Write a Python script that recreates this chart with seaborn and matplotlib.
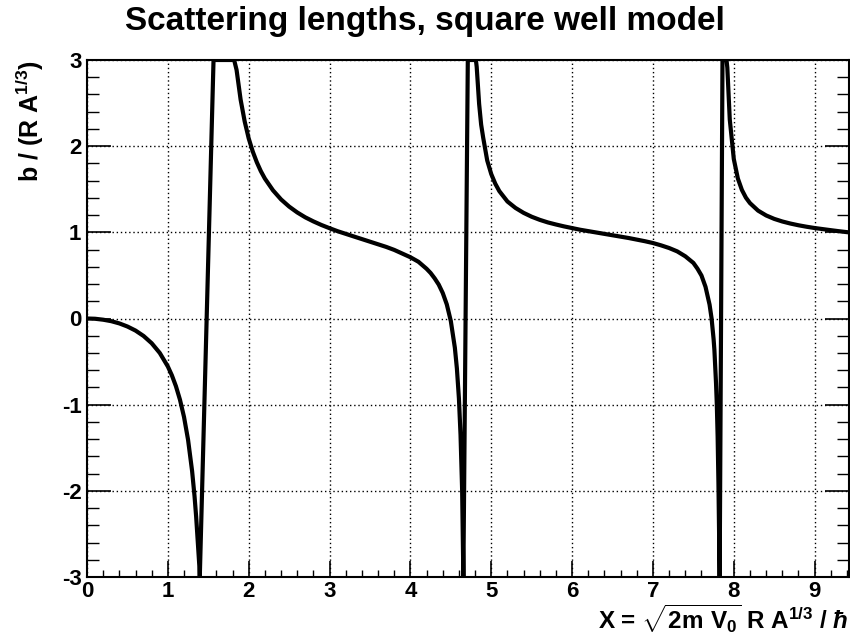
import matplotlib
matplotlib.use("Agg")
import matplotlib.pyplot as plt
import seaborn as sns
import pandas as pd
from matplotlib.ticker import MultipleLocator

# values (clipped to the drawn range -3..3)
x_vals = [0.0, 0.1, 0.2, 0.3, 0.4, 0.5, 0.6, 0.7, 0.8, 0.9, 1.0, 1.05, 1.1,
          1.15, 1.2, 1.25, 1.3, 1.33, 1.35, 1.37, 1.39, 1.395,
          1.565, 1.82, 1.85, 1.9, 1.95, 2.0, 2.05, 2.1, 2.15, 2.2, 2.3, 2.4,
          2.5, 2.6, 2.7, 2.8, 2.9, 3.0, 3.1, 3.2, 3.3, 3.4, 3.5, 3.6, 3.7,
          3.8, 3.9, 4.0, 4.1, 4.2, 4.25, 4.3, 4.35, 4.4, 4.45, 4.5, 4.55,
          4.575, 4.6, 4.62, 4.64, 4.655,
          4.71, 4.81, 4.82, 4.85, 4.875, 4.9, 4.95, 5.0, 5.05, 5.1, 5.2, 5.3,
          5.4, 5.5, 5.6, 5.7, 5.8, 5.9, 6.0, 6.1, 6.2, 6.3, 6.4, 6.5, 6.6,
          6.7, 6.8, 6.9, 7.0, 7.1, 7.2, 7.3, 7.4, 7.45, 7.5, 7.55, 7.6, 7.65,
          7.7, 7.725, 7.75, 7.76, 7.78, 7.79, 7.8, 7.81, 7.82, 7.825,
          7.86, 7.91, 7.92, 7.95, 8.0, 8.05, 8.1, 8.15, 8.2, 8.3, 8.4, 8.5,
          8.6, 8.7, 8.8, 8.9, 9.0, 9.1, 9.2, 9.3, 9.42]
b_vals = [0.0, -0.003, -0.014, -0.031, -0.057, -0.093, -0.140, -0.203,
          -0.287, -0.400, -0.557, -0.660, -0.786, -0.943, -1.143, -1.408,
          -1.771, -2.062, -2.30, -2.587, -2.88, -3.0,
          3.0, 3.0, 2.885, 2.54, 2.288, 2.09, 1.938, 1.814, 1.710, 1.624,
          1.488, 1.382, 1.299, 1.231, 1.174, 1.127, 1.085, 1.048, 1.013,
          0.982, 0.952, 0.922, 0.893, 0.863, 0.831, 0.796, 0.754, 0.711,
          0.658, 0.577, 0.528, 0.466, 0.394, 0.296, 0.164, -0.030, -0.340,
          -0.580, -0.926, -1.35, -2.0, -3.0,
          3.0, 3.0, 2.92, 2.49, 2.25, 2.10, 1.834, 1.676, 1.564, 1.478,
          1.358, 1.283, 1.226, 1.181, 1.145, 1.115, 1.091, 1.069, 1.049,
          1.030, 1.014, 0.997, 0.982, 0.966, 0.950, 0.934, 0.916, 0.897,
          0.876, 0.849, 0.818, 0.779, 0.722, 0.683, 0.645, 0.579, 0.499,
          0.368, 0.162, 0.002, -0.239, -0.366, -0.75, -1.0, -1.37, -1.91,
          -2.7, -3.0,
          3.0, 3.0, 2.91, 2.31, 1.85, 1.625, 1.492, 1.402, 1.339, 1.252,
          1.196, 1.156, 1.126, 1.102, 1.082, 1.065, 1.050, 1.037, 1.025,
          1.013, 1.0]

x_ticks = [0, 1, 2, 3, 4, 5, 6, 7, 8, 9]
y_ticks = [-3, -2, -1, 0, 1, 2, 3]

df = pd.DataFrame({"X": x_vals, "b": b_vals})

sns.set_theme(style="white")
plt.rcParams["font.family"] = ["Liberation Sans", "DejaVu Sans"]
plt.rcParams["font.weight"] = "bold"
plt.rcParams["text.color"] = "black"
plt.rcParams["axes.labelcolor"] = "black"
plt.rcParams["xtick.color"] = "black"
plt.rcParams["ytick.color"] = "black"
plt.rcParams["mathtext.fontset"] = "custom"
plt.rcParams["mathtext.rm"] = "Liberation Sans:bold"
plt.rcParams["mathtext.bf"] = "Liberation Sans:bold"
plt.rcParams["mathtext.it"] = "Liberation Sans:bold:italic"
plt.rcParams["mathtext.default"] = "bf"

fig = plt.figure(figsize=(8.5, 6.4), dpi=100)
ax = fig.add_axes([87 / 850, 1 - 577 / 640, (849 - 87) / 850, (577 - 60) / 640])

sns.lineplot(data=df, x="X", y="b", sort=False, estimator=None,
             color="black", linewidth=3.0, ax=ax)

ax.set_xlim(0, 9.4248)
ax.set_ylim(-3, 3)
ax.set_xticks(x_ticks)
ax.set_yticks(y_ticks)
ax.set_xticklabels([str(t) for t in x_ticks], fontsize=16, fontweight="bold")
ax.set_yticklabels([str(t) for t in y_ticks], fontsize=16, fontweight="bold")
ax.xaxis.set_minor_locator(MultipleLocator(0.2))
ax.yaxis.set_minor_locator(MultipleLocator(0.2))
ax.tick_params(axis="x", which="major", direction="in", length=11.5, width=1.2,
               pad=3, bottom=True, top=False)
ax.tick_params(axis="x", which="minor", direction="in", length=5, width=1.0,
               bottom=True, top=False)
ax.tick_params(axis="y", which="major", direction="in", length=17, width=1.2,
               pad=4, left=True, right=True)
ax.tick_params(axis="y", which="minor", direction="in", length=8.5, width=1.0,
               left=True, right=True)

ax.grid(True, which="major", color="black", linestyle=(0, (1, 2)), linewidth=1.0)
for s in ax.spines.values():
    s.set_color("black")
    s.set_linewidth(1.5)

ax.set_xlabel(r"X = $\sqrt{2m\ V_0}$ R A$^{1/3}$ / $\mathit{\hbar}$",
              fontsize=17.5, fontweight="bold", loc="right", labelpad=0)
ax.set_ylabel(r"b / (R A$^{1/3}$)", fontsize=18, fontweight="bold",
              loc="top", labelpad=11)
fig.suptitle("Scattering lengths, square well model", fontsize=24,
             fontweight="bold", x=0.5, y=0.99)

fig.savefig("out.png", dpi=100)
